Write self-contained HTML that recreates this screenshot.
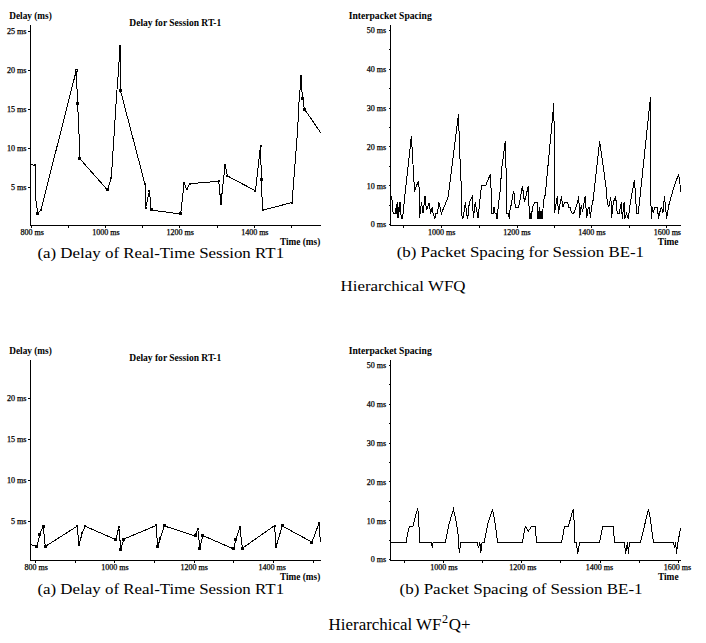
<!DOCTYPE html>
<html><head><meta charset="utf-8"><style>
html,body{margin:0;padding:0;background:#fff;}
body{width:706px;height:643px;overflow:hidden;}
svg{display:block;}
text{font-family:"Liberation Serif",serif;fill:#000;}
.tk{stroke:#000;stroke-width:0.25px;}
.cap{stroke:none;}
</style></head><body>
<svg width="706" height="643" viewBox="0 0 706 643">
<rect width="706" height="643" fill="#fff"/>
<g stroke="#000" stroke-width="1" shape-rendering="crispEdges">

</g>
<g stroke="#000" stroke-width="1" fill="none" shape-rendering="crispEdges">
<line x1="30.5" y1="25" x2="30.5" y2="225.5"/><line x1="30" y1="225.5" x2="321" y2="225.5"/><line x1="28" y1="31.3" x2="30.5" y2="31.3"/><line x1="28" y1="70.4" x2="30.5" y2="70.4"/><line x1="28" y1="109.4" x2="30.5" y2="109.4"/><line x1="28" y1="148.4" x2="30.5" y2="148.4"/><line x1="28" y1="187.5" x2="30.5" y2="187.5"/><line x1="31.0" y1="225.5" x2="31.0" y2="228"/><line x1="68.2" y1="225.5" x2="68.2" y2="228"/><line x1="105.4" y1="225.5" x2="105.4" y2="228"/><line x1="142.60000000000002" y1="225.5" x2="142.60000000000002" y2="228"/><line x1="179.8" y1="225.5" x2="179.8" y2="228"/><line x1="217.0" y1="225.5" x2="217.0" y2="228"/><line x1="254.20000000000002" y1="225.5" x2="254.20000000000002" y2="228"/><line x1="291.40000000000003" y1="225.5" x2="291.40000000000003" y2="228"/><line x1="390.5" y1="25" x2="390.5" y2="225.5"/><line x1="390" y1="225.5" x2="681" y2="225.5"/><line x1="388.5" y1="30.5" x2="390.5" y2="30.5"/><line x1="389" y1="49.9" x2="390.5" y2="49.9"/><line x1="388.5" y1="69.3" x2="390.5" y2="69.3"/><line x1="389" y1="88.69999999999999" x2="390.5" y2="88.69999999999999"/><line x1="388.5" y1="108.1" x2="390.5" y2="108.1"/><line x1="389" y1="127.5" x2="390.5" y2="127.5"/><line x1="388.5" y1="146.89999999999998" x2="390.5" y2="146.89999999999998"/><line x1="389" y1="166.29999999999998" x2="390.5" y2="166.29999999999998"/><line x1="388.5" y1="185.7" x2="390.5" y2="185.7"/><line x1="389" y1="205.1" x2="390.5" y2="205.1"/><line x1="388.5" y1="224.5" x2="390.5" y2="224.5"/><line x1="403.8" y1="225.5" x2="403.8" y2="228"/><line x1="441.2" y1="225.5" x2="441.2" y2="228"/><line x1="479.7" y1="225.5" x2="479.7" y2="228"/><line x1="517.1" y1="225.5" x2="517.1" y2="228"/><line x1="554.4" y1="225.5" x2="554.4" y2="228"/><line x1="591.4" y1="225.5" x2="591.4" y2="228"/><line x1="629.3" y1="225.5" x2="629.3" y2="228"/><line x1="666.5" y1="225.5" x2="666.5" y2="228"/><line x1="30.5" y1="360" x2="30.5" y2="560.5"/><line x1="30" y1="560.5" x2="321" y2="560.5"/><line x1="28" y1="398.4" x2="30.5" y2="398.4"/><line x1="28" y1="439.6" x2="30.5" y2="439.6"/><line x1="28" y1="480.7" x2="30.5" y2="480.7"/><line x1="28" y1="521.6" x2="30.5" y2="521.6"/><line x1="35.4" y1="560.5" x2="35.4" y2="563"/><line x1="75.1" y1="560.5" x2="75.1" y2="563"/><line x1="114.80000000000001" y1="560.5" x2="114.80000000000001" y2="563"/><line x1="154.5" y1="560.5" x2="154.5" y2="563"/><line x1="194.20000000000002" y1="560.5" x2="194.20000000000002" y2="563"/><line x1="233.9" y1="560.5" x2="233.9" y2="563"/><line x1="273.6" y1="560.5" x2="273.6" y2="563"/><line x1="313.3" y1="560.5" x2="313.3" y2="563"/><line x1="390.5" y1="360" x2="390.5" y2="560.5"/><line x1="390" y1="560.5" x2="681" y2="560.5"/><line x1="388.5" y1="365.5" x2="390.5" y2="365.5"/><line x1="389" y1="384.9" x2="390.5" y2="384.9"/><line x1="388.5" y1="404.3" x2="390.5" y2="404.3"/><line x1="389" y1="423.7" x2="390.5" y2="423.7"/><line x1="388.5" y1="443.1" x2="390.5" y2="443.1"/><line x1="389" y1="462.5" x2="390.5" y2="462.5"/><line x1="388.5" y1="481.9" x2="390.5" y2="481.9"/><line x1="389" y1="501.29999999999995" x2="390.5" y2="501.29999999999995"/><line x1="388.5" y1="520.7" x2="390.5" y2="520.7"/><line x1="389" y1="540.1" x2="390.5" y2="540.1"/><line x1="388.5" y1="559.5" x2="390.5" y2="559.5"/><line x1="404.5" y1="560.5" x2="404.5" y2="563"/><line x1="443.61" y1="560.5" x2="443.61" y2="563"/><line x1="482.72" y1="560.5" x2="482.72" y2="563"/><line x1="521.83" y1="560.5" x2="521.83" y2="563"/><line x1="560.94" y1="560.5" x2="560.94" y2="563"/><line x1="600.05" y1="560.5" x2="600.05" y2="563"/><line x1="639.16" y1="560.5" x2="639.16" y2="563"/><line x1="678.27" y1="560.5" x2="678.27" y2="563"/>
</g>
<g>
<text class="tk" x="26.5" y="34.0" font-size="8.1" font-weight="normal" text-anchor="end">25 ms</text><text class="tk" x="26.5" y="73.10000000000001" font-size="8.1" font-weight="normal" text-anchor="end">20 ms</text><text class="tk" x="26.5" y="112.10000000000001" font-size="8.1" font-weight="normal" text-anchor="end">15 ms</text><text class="tk" x="26.5" y="151.1" font-size="8.1" font-weight="normal" text-anchor="end">10 ms</text><text class="tk" x="26.5" y="190.2" font-size="8.1" font-weight="normal" text-anchor="end">5 ms</text><text class="tk" x="32.2" y="235" font-size="8.0" font-weight="normal" text-anchor="middle">800 ms</text><text class="tk" x="106" y="235" font-size="8.0" font-weight="normal" text-anchor="middle">1000 ms</text><text class="tk" x="180.2" y="235" font-size="8.0" font-weight="normal" text-anchor="middle">1200 ms</text><text class="tk" x="254.8" y="235" font-size="8.0" font-weight="normal" text-anchor="middle">1400 ms</text><text x="9.3" y="18.8" font-size="9.3" font-weight="bold" text-anchor="start" textLength="42.5" lengthAdjust="spacingAndGlyphs">Delay (ms)</text><text x="129.3" y="25.8" font-size="9.5" font-weight="bold" text-anchor="start" textLength="92" lengthAdjust="spacingAndGlyphs">Delay for Session RT-1</text><text x="280" y="244.9" font-size="9.3" font-weight="bold" text-anchor="start" textLength="40.3" lengthAdjust="spacingAndGlyphs">Time (ms)</text><text class="cap" x="37.4" y="257.9" font-size="15.5" font-weight="normal" text-anchor="start" textLength="246.7" lengthAdjust="spacingAndGlyphs">(a) Delay of Real-Time Session RT1</text><text class="tk" x="386" y="33.3" font-size="8.0" font-weight="normal" text-anchor="end">50 ms</text><text class="tk" x="386" y="72.1" font-size="8.0" font-weight="normal" text-anchor="end">40 ms</text><text class="tk" x="386" y="110.89999999999999" font-size="8.0" font-weight="normal" text-anchor="end">30 ms</text><text class="tk" x="386" y="149.7" font-size="8.0" font-weight="normal" text-anchor="end">20 ms</text><text class="tk" x="386" y="188.5" font-size="8.0" font-weight="normal" text-anchor="end">10 ms</text><text class="tk" x="386" y="227.3" font-size="8.0" font-weight="normal" text-anchor="end">0 ms</text><text class="tk" x="441.7" y="234.5" font-size="8.0" font-weight="normal" text-anchor="middle">1000 ms</text><text class="tk" x="516.9" y="234.5" font-size="8.0" font-weight="normal" text-anchor="middle">1200 ms</text><text class="tk" x="591.9" y="234.5" font-size="8.0" font-weight="normal" text-anchor="middle">1400 ms</text><text class="tk" x="667.3" y="234.5" font-size="8.0" font-weight="normal" text-anchor="middle">1600 ms</text><text x="348.7" y="18.7" font-size="9.6" font-weight="bold" text-anchor="start" textLength="83" lengthAdjust="spacingAndGlyphs">Interpacket Spacing</text><text x="657.8" y="244.5" font-size="9.4" font-weight="bold" text-anchor="start" textLength="20.7" lengthAdjust="spacingAndGlyphs">Time</text><text class="cap" x="396.7" y="257.2" font-size="15.5" font-weight="normal" text-anchor="start" textLength="247.4" lengthAdjust="spacingAndGlyphs">(b) Packet Spacing for Session BE-1</text><text class="cap" x="340.5" y="291" font-size="15.5" font-weight="normal" text-anchor="start" textLength="125" lengthAdjust="spacingAndGlyphs">Hierarchical WFQ</text><text class="tk" x="26.5" y="400.9" font-size="8.1" font-weight="normal" text-anchor="end">20 ms</text><text class="tk" x="26.5" y="442.1" font-size="8.1" font-weight="normal" text-anchor="end">15 ms</text><text class="tk" x="26.5" y="483.2" font-size="8.1" font-weight="normal" text-anchor="end">10 ms</text><text class="tk" x="26.5" y="524.1" font-size="8.1" font-weight="normal" text-anchor="end">5 ms</text><text class="tk" x="36.1" y="570" font-size="8.0" font-weight="normal" text-anchor="middle">800 ms</text><text class="tk" x="114.9" y="570" font-size="8.0" font-weight="normal" text-anchor="middle">1000 ms</text><text class="tk" x="194.2" y="570" font-size="8.0" font-weight="normal" text-anchor="middle">1200 ms</text><text class="tk" x="272.2" y="570" font-size="8.0" font-weight="normal" text-anchor="middle">1400 ms</text><text x="9.3" y="353.9" font-size="9.3" font-weight="bold" text-anchor="start" textLength="42.5" lengthAdjust="spacingAndGlyphs">Delay (ms)</text><text x="129.3" y="360.8" font-size="9.5" font-weight="bold" text-anchor="start" textLength="92" lengthAdjust="spacingAndGlyphs">Delay for Session RT-1</text><text x="280" y="579.8" font-size="9.3" font-weight="bold" text-anchor="start" textLength="40.3" lengthAdjust="spacingAndGlyphs">Time (ms)</text><text class="cap" x="37.4" y="593.7" font-size="15.5" font-weight="normal" text-anchor="start" textLength="246.7" lengthAdjust="spacingAndGlyphs">(a) Delay of Real-Time Session RT1</text><text class="tk" x="386" y="368.3" font-size="8.0" font-weight="normal" text-anchor="end">50 ms</text><text class="tk" x="386" y="407.1" font-size="8.0" font-weight="normal" text-anchor="end">40 ms</text><text class="tk" x="386" y="445.90000000000003" font-size="8.0" font-weight="normal" text-anchor="end">30 ms</text><text class="tk" x="386" y="484.7" font-size="8.0" font-weight="normal" text-anchor="end">20 ms</text><text class="tk" x="386" y="523.5" font-size="8.0" font-weight="normal" text-anchor="end">10 ms</text><text class="tk" x="386" y="562.3" font-size="8.0" font-weight="normal" text-anchor="end">0 ms</text><text class="tk" x="444" y="569.5" font-size="8.0" font-weight="normal" text-anchor="middle">1000 ms</text><text class="tk" x="522.8" y="569.5" font-size="8.0" font-weight="normal" text-anchor="middle">1200 ms</text><text class="tk" x="599.5" y="569.5" font-size="8.0" font-weight="normal" text-anchor="middle">1400 ms</text><text class="tk" x="677.5" y="569.5" font-size="8.0" font-weight="normal" text-anchor="middle">1600 ms</text><text x="348.7" y="353.7" font-size="9.6" font-weight="bold" text-anchor="start" textLength="83" lengthAdjust="spacingAndGlyphs">Interpacket Spacing</text><text x="657.9" y="580" font-size="9.4" font-weight="bold" text-anchor="start" textLength="20.7" lengthAdjust="spacingAndGlyphs">Time</text><text class="cap" x="399.6" y="594" font-size="15.5" font-weight="normal" text-anchor="start" textLength="243" lengthAdjust="spacingAndGlyphs">(b) Packet Spacing of Session BE-1</text><text class="cap" x="328.6" y="629.5" font-size="16" textLength="142" lengthAdjust="spacingAndGlyphs">Hierarchical WF<tspan dy="-7" dx="0.5" font-size="11.5">2</tspan><tspan dy="7" dx="0.8">Q+</tspan></text>
</g>
<g stroke="#000" stroke-width="1" fill="none" shape-rendering="crispEdges">
<polyline points="31.0,164.5 35.1,165.5 35.6,198.4 37.8,213.2 40.9,210.1 76.3,70.4 77.6,103.9 78.7,124.9 79.9,158.8 107.4,189.9 111.3,178.2 116.8,92.2 118.0,77.0 119.0,62.4 119.0,45.5 120.5,45.5 120.5,90.6 145.0,184.4 145.7,207.8 149.5,190.7 151.1,210.1 180.7,214.0 184.1,182.9 186.6,189.1 190.0,183.7 218.8,181.3 220.9,204.0 225.1,164.6 227.5,176.0 255.5,190.8 260.5,145.6 261.4,179.5 262.5,210.2 292.1,202.5 297.6,130.0 299.5,92.0 300.5,88.0 300.5,75.2 301.5,75.2 301.5,88.0 302.7,98.1 304.4,109.0 320.6,132.6"/>
<polyline points="390.7,198.3 391.9,196.4 392.4,210.1 393.4,213.5 395.6,213.5 396.3,203.7 397.3,218.4 397.8,202.3 398.6,218.4 399.6,202.3 400.3,202.3 401.2,218.4 402.5,218.4 403.7,207.2 405.6,188.5 411.4,136.0 414.0,181.7 414.5,191.5 418.4,180.7 419.4,191.0 419.4,218.4 421.5,202.3 423.0,213.0 425.0,196.4 426.5,210.0 429.2,202.7 430.6,213.5 432.1,207.6 433.1,213.0 434.9,218.4 435.8,213.5 437.5,213.5 438.9,202.3 441.4,213.5 448.2,196.9 458.5,114.2 459.6,150.0 461.0,180.7 462.0,216.0 463.0,218.4 465.4,202.3 466.6,214.0 467.8,218.4 469.3,202.3 472.3,196.4 473.4,218.4 475.2,202.3 478.1,218.4 479.6,202.3 481.6,185.1 485.8,185.2 490.4,174.2 491.4,196.8 491.4,213.4 493.1,213.4 493.9,207.8 494.5,207.4 495.0,212.9 496.0,213.8 496.9,218.5 497.7,212.0 498.6,203.6 499.9,193.4 501.8,168.1 505.2,141.4 506.7,190.0 506.7,213.4 508.4,213.4 509.2,218.5 510.0,210.4 510.9,206.1 512.2,199.3 513.5,191.3 514.3,193.8 515.2,207.0 518.6,207.0 519.8,201.0 522.4,185.6 524.5,202.3 528.4,185.6 528.8,203.6 529.6,213.8 530.5,218.5 531.7,213.8 532.6,207.0 534.7,202.7 537.3,202.7 537.7,211.2 538.5,218.5 539.4,207.4 540.5,218.5 542.8,211.2 543.6,201.0 545.3,194.4 553.9,103.0 554.6,213.0 556.2,202.3 557.4,196.4 558.5,213.5 560.3,202.3 561.5,196.4 562.7,207.2 564.7,202.3 567.6,202.3 568.6,207.2 570.1,207.2 571.6,213.0 573.8,213.1 576.9,204.7 578.8,196.3 579.5,218.4 581.4,204.7 582.5,212.3 585.2,196.3 586.7,218.4 588.3,207.0 589.3,207.0 590.4,218.4 591.5,207.0 592.9,201.6 599.7,141.4 606.6,191.0 607.3,203.9 608.9,207.0 610.9,197.0 611.5,218.4 613.4,201.6 615.7,197.0 617.2,213.1 619.2,213.1 621.3,202.2 622.3,218.5 624.1,202.2 624.9,218.5 626.5,213.1 628.3,218.5 630.2,203.4 634.4,180.3 635.0,187.6 636.6,213.1 638.3,213.1 650.5,97.2 650.6,188.5 651.3,218.5 652.0,207.0 653.2,213.1 655.0,207.0 657.5,207.0 658.4,218.5 660.5,209.4 661.7,207.6 662.9,213.1 664.5,196.1 666.6,218.5 669.0,204.6 674.4,185.2 678.7,174.3 680.0,184.4 680.3,192.5"/>
<polyline points="30.2,544.2 36.8,546.7 39.7,534.7 43.2,525.9 45.3,546.5 77.2,526.2 78.9,545.0 82.2,533.3 85.0,526.2 116.0,539.7 118.8,527.0 120.8,549.2 124.0,539.0 156.2,525.5 157.6,546.8 160.4,538.3 164.4,526.0 195.0,535.9 197.8,529.4 199.9,548.2 202.7,535.5 233.6,548.9 236.0,539.0 239.9,527.4 242.4,548.2 274.6,525.6 276.0,546.9 282.3,526.0 312.0,542.1 319.0,523.2 320.4,542.5"/>
<polyline points="390.4,542.4 406.2,542.4 407.9,532.0 409.5,526.6 412.8,526.6 417.4,509.2 418.2,511.9 419.3,532.0 419.6,542.4 431.6,542.4 432.4,548.3 433.1,542.4 445.4,542.4 449.2,523.3 453.5,509.2 456.5,523.3 458.2,535.3 459.3,553.2 460.9,542.4 477.2,542.4 478.5,548.3 479.9,542.4 480.7,553.2 482.1,542.4 484.3,542.4 487.6,524.4 492.5,509.2 494.6,520.0 496.8,535.3 497.4,542.4 522.4,542.4 524.8,528.7 525.9,526.6 528.3,531.5 531.3,526.6 535.1,526.6 536.6,542.4 561.6,542.4 564.5,526.6 568.3,526.6 573.2,509.2 574.3,524.4 574.7,542.4 576.5,542.4 577.6,553.8 579.8,542.4 599.6,542.4 602.6,526.6 613.2,526.6 614.6,542.4 624.6,542.4 625.5,553.8 627.4,542.4 628.4,553.8 629.5,542.4 640.4,542.4 648.5,509.2 650.2,517.9 653.4,542.4 673.6,542.4 674.6,548.3 675.7,542.4 676.5,553.8 677.4,545.0 680.6,528.2"/>
</g>
<rect x="75.5" y="69.5" width="2" height="2" fill="#fff" stroke="#000" stroke-width="1" shape-rendering="crispEdges"/><g fill="#000" shape-rendering="crispEdges"><rect x="119" y="45" width="2" height="17"/><rect x="300" y="75" width="2" height="13"/><rect x="496" y="213" width="2" height="6"/><rect x="529" y="213" width="3" height="6"/><rect x="537" y="211" width="6" height="8"/><rect x="34" y="164" width="2" height="2"/><rect x="37" y="212" width="2" height="2"/><rect x="40" y="209" width="2" height="2"/><rect x="77" y="103" width="2" height="2"/><rect x="79" y="158" width="2" height="2"/><rect x="106" y="189" width="2" height="2"/><rect x="110" y="177" width="2" height="2"/><rect x="120" y="90" width="2" height="2"/><rect x="144" y="183" width="2" height="2"/><rect x="145" y="207" width="2" height="2"/><rect x="148" y="190" width="2" height="2"/><rect x="150" y="209" width="2" height="2"/><rect x="180" y="213" width="2" height="2"/><rect x="183" y="182" width="2" height="2"/><rect x="186" y="188" width="2" height="2"/><rect x="189" y="183" width="2" height="2"/><rect x="218" y="180" width="2" height="2"/><rect x="220" y="203" width="2" height="2"/><rect x="224" y="164" width="2" height="2"/><rect x="226" y="175" width="2" height="2"/><rect x="254" y="190" width="2" height="2"/><rect x="260" y="145" width="2" height="2"/><rect x="260" y="178" width="2" height="2"/><rect x="262" y="209" width="2" height="2"/><rect x="291" y="202" width="2" height="2"/><rect x="302" y="97" width="2" height="2"/><rect x="303" y="108" width="2" height="2"/><rect x="36" y="546" width="2" height="2"/><rect x="39" y="534" width="2" height="2"/><rect x="42" y="525" width="2" height="2"/><rect x="44" y="546" width="2" height="2"/><rect x="76" y="525" width="2" height="2"/><rect x="78" y="544" width="2" height="2"/><rect x="81" y="532" width="2" height="2"/><rect x="84" y="525" width="2" height="2"/><rect x="115" y="539" width="2" height="2"/><rect x="118" y="526" width="2" height="2"/><rect x="120" y="548" width="2" height="2"/><rect x="123" y="538" width="2" height="2"/><rect x="155" y="524" width="2" height="2"/><rect x="157" y="546" width="2" height="2"/><rect x="159" y="537" width="2" height="2"/><rect x="163" y="525" width="2" height="2"/><rect x="194" y="535" width="2" height="2"/><rect x="197" y="528" width="2" height="2"/><rect x="199" y="547" width="2" height="2"/><rect x="202" y="534" width="2" height="2"/><rect x="233" y="548" width="2" height="2"/><rect x="235" y="538" width="2" height="2"/><rect x="239" y="526" width="2" height="2"/><rect x="241" y="547" width="2" height="2"/><rect x="274" y="525" width="2" height="2"/><rect x="275" y="546" width="2" height="2"/><rect x="281" y="525" width="2" height="2"/><rect x="311" y="541" width="2" height="2"/><rect x="318" y="522" width="2" height="2"/><rect x="76" y="102" width="3" height="3"/><rect x="119" y="89" width="3" height="3"/><rect x="106" y="188" width="3" height="3"/><rect x="260" y="178" width="3" height="3"/><rect x="301" y="97" width="3" height="3"/><rect x="303" y="108" width="3" height="3"/><rect x="78" y="157" width="3" height="3"/><rect x="36" y="212" width="3" height="3"/><rect x="150" y="208" width="3" height="3"/><rect x="179" y="212" width="3" height="3"/><rect x="35" y="545" width="3" height="3"/><rect x="38" y="533" width="3" height="3"/><rect x="42" y="525" width="3" height="3"/><rect x="44" y="545" width="3" height="3"/><rect x="114" y="538" width="3" height="3"/><rect x="119" y="548" width="3" height="3"/><rect x="122" y="538" width="3" height="3"/><rect x="156" y="545" width="3" height="3"/><rect x="163" y="524" width="3" height="3"/><rect x="194" y="534" width="3" height="3"/><rect x="198" y="547" width="3" height="3"/><rect x="201" y="534" width="3" height="3"/><rect x="232" y="547" width="3" height="3"/><rect x="234" y="538" width="3" height="3"/><rect x="241" y="547" width="3" height="3"/><rect x="281" y="524" width="3" height="3"/><rect x="310" y="541" width="3" height="3"/></g>
</svg>
</body></html>
